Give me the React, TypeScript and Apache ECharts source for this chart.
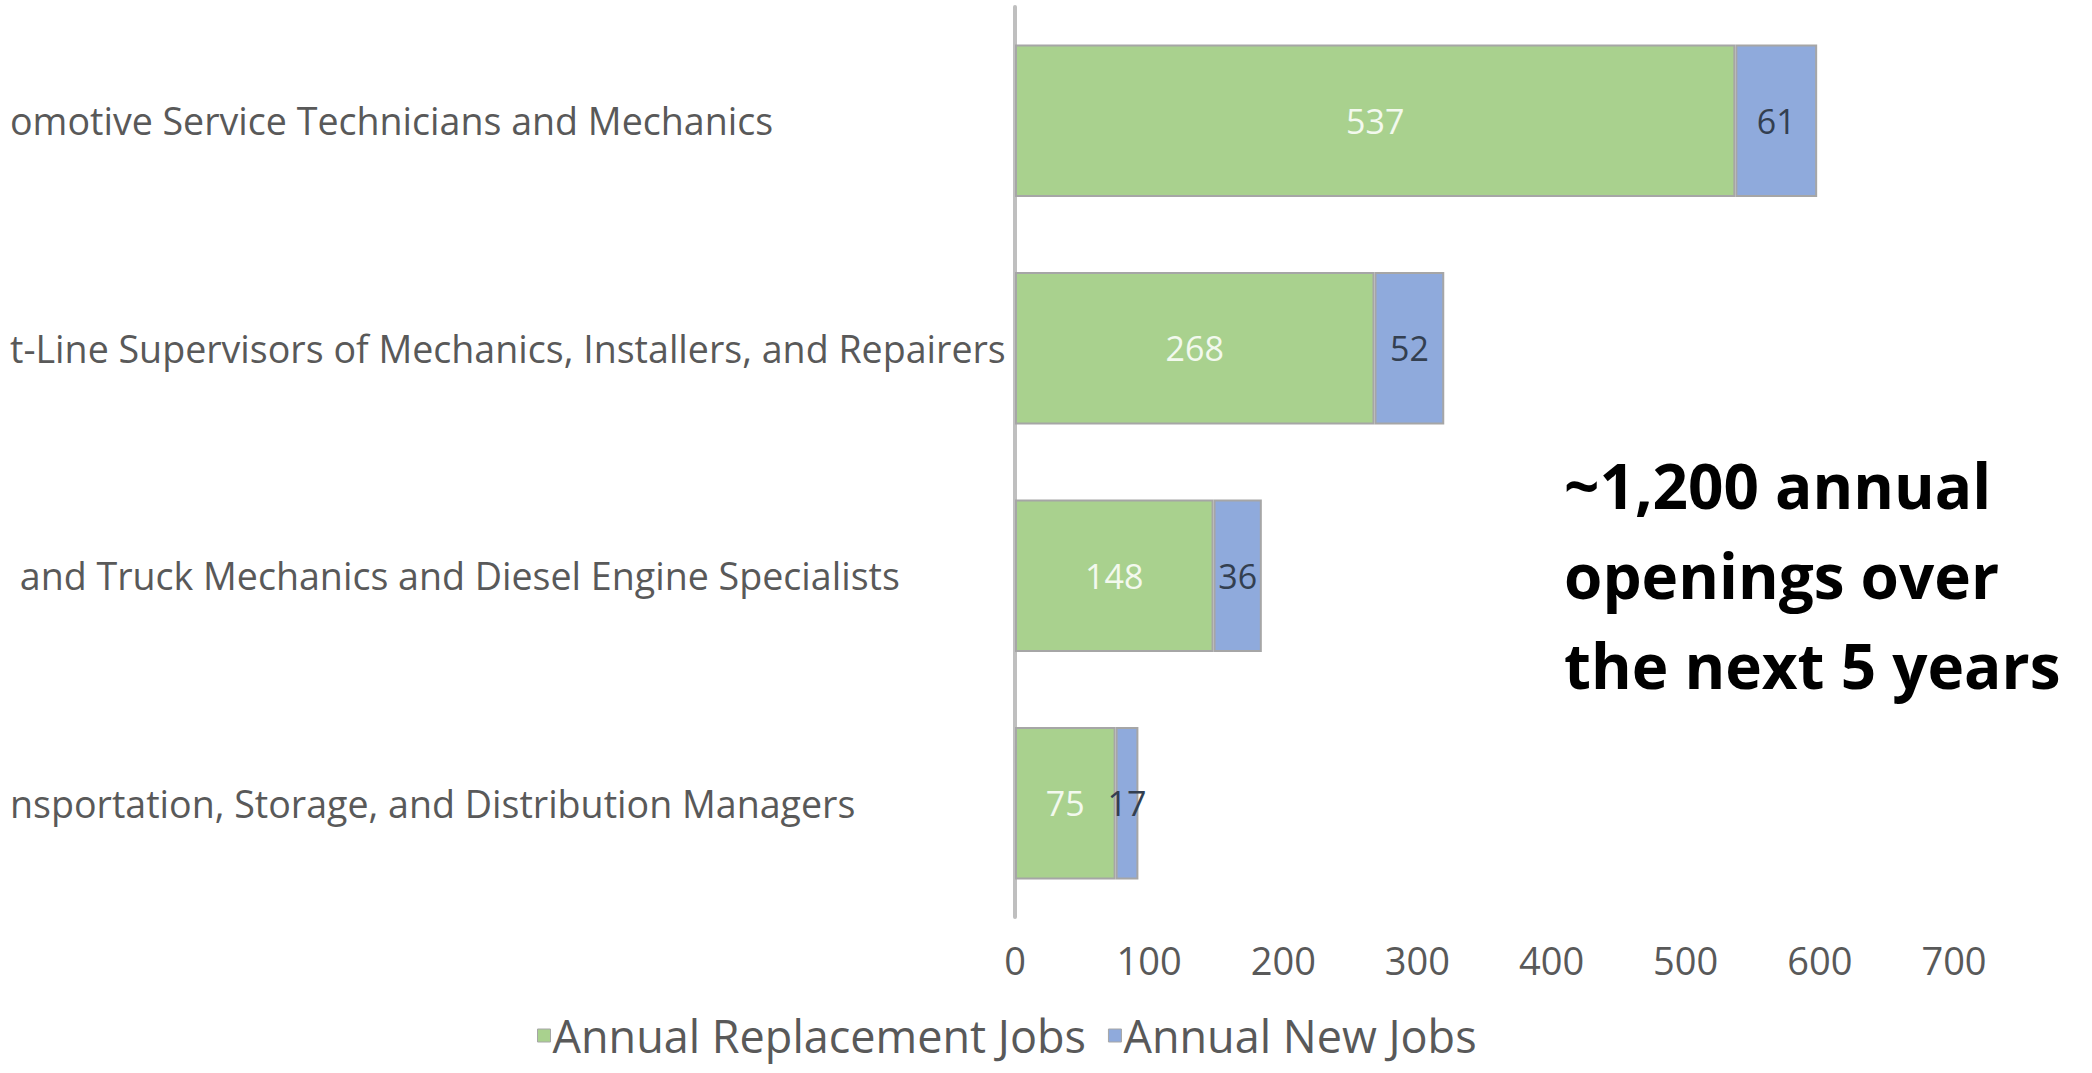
import React, { useEffect, useRef } from "react";
import * as echarts from "echarts";

const categories = [
  "omotive Service Technicians and Mechanics",
  "t-Line Supervisors of Mechanics, Installers, and Repairers",
  " and Truck Mechanics and Diesel Engine Specialists",
  "nsportation, Storage, and Distribution Managers",
];
const replacementJobs = [537, 268, 148, 75];
const newJobs = [61, 52, 36, 17];
const seriesNames = ["Annual Replacement Jobs", "Annual New Jobs"];
const annotationLines = ["~1,200 annual", "openings over", "the next 5 years"];

const FONT = "'Open Sans', 'Noto Sans', sans-serif";

export default function App() {
  const ref = useRef<HTMLDivElement>(null);
  useEffect(() => {
    document.body.style.margin = "0";
    const chart = echarts.init(ref.current!, null, { renderer: "svg" });
    chart.setOption({
      animation: false,
      backgroundColor: "#ffffff",
      textStyle: { fontFamily: FONT },
      grid: { left: 1015, right: 138, top: 7, bottom: 156, containLabel: false },
      xAxis: {
        type: "value",
        min: 0,
        max: 700,
        interval: 100,
        axisLine: { show: false },
        axisTick: { show: false },
        splitLine: { show: false },
        axisLabel: { color: "#595959", fontSize: 38, fontFamily: FONT, margin: 24 },
      },
      yAxis: {
        type: "category",
        inverse: true,
        data: categories,
        axisTick: { show: false },
        axisLine: { show: true, lineStyle: { color: "#bfbfbf", width: 4 } },
        axisLabel: {
          color: "#595959",
          fontSize: 37.6,
          fontFamily: FONT,
          align: "left",
          margin: 1005,
        },
      },
      legend: {
        data: seriesNames,
        left: 532,
        top: 1008,
        icon: "rect",
        itemWidth: 13,
        itemHeight: 13,
        itemGap: 22,
        itemStyle: { borderColor: "#a6a6a6", borderWidth: 1 },
        textStyle: {
          color: "#595959",
          fontSize: 45,
          lineHeight: 45,
          fontFamily: FONT,
          padding: [0, 0, 0, -3],
        },
      },
      series: [
        {
          name: seriesNames[0],
          type: "bar",
          stack: "total",
          barWidth: "67%",
          data: replacementJobs,
          itemStyle: { color: "#a9d18e", borderColor: "#a6a6a6", borderWidth: 2 },
          label: {
            show: true,
            position: "inside",
            color: "#f3f9ee",
            fontSize: 34,
            fontFamily: FONT,
          },
        },
        {
          name: seriesNames[1],
          type: "bar",
          stack: "total",
          barWidth: "67%",
          data: newJobs,
          itemStyle: { color: "#8faadc", borderColor: "#a6a6a6", borderWidth: 2 },
          label: {
            show: true,
            position: "inside",
            color: "#333f50",
            fontSize: 34,
            fontFamily: FONT,
          },
        },
      ],
      graphic: [
        {
          type: "text",
          left: 1564,
          top: 440,
          style: {
            text: annotationLines.join("\n"),
            fill: "#000000",
            font: `bold 62px ${FONT}`,
            lineHeight: 90,
          },
        },
      ],
    });
    return () => chart.dispose();
  }, []);
  return <div ref={ref} style={{ width: 2092, height: 1073 }} />;
}
